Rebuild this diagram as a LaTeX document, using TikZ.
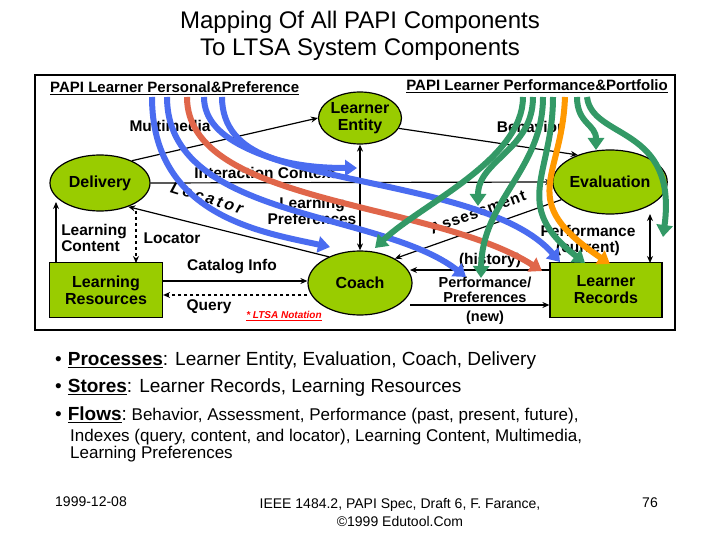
\documentclass[tikz,border=0pt]{standalone}
\usepackage{fontspec}
\setmainfont{Liberation Sans}
\usetikzlibrary{arrows.meta,shapes.geometric}
\definecolor{lg}{HTML}{99CC00}
\definecolor{bl}{HTML}{4A6CF0}
\definecolor{rd}{HTML}{E0664A}
\definecolor{gr}{HTML}{339966}
\definecolor{og}{HTML}{FF9900}
\begin{document}
\begin{tikzpicture}[x=1pt,y=-1pt,
  proc/.style={ellipse,draw,line width=1.2pt,fill=lg,font=\bfseries\fontsize{16}{17}\selectfont,align=center,inner sep=0pt},
  store/.style={rectangle,draw,line width=1.2pt,fill=lg,font=\bfseries\fontsize{16}{17}\selectfont,align=center},
  flow/.style={-{Stealth[length=7pt,width=6pt]},line width=1.2pt},
  lab/.style={font=\bfseries\fontsize{15.5}{16}\selectfont,align=center,inner sep=1pt},
  fat/.style={line width=6pt,-{Triangle[length=12pt,width=16pt]}},
  bul/.style={anchor=west,font=\fontsize{19}{22}\selectfont,inner sep=0pt}]
\useasboundingbox (0,0) rectangle (720,540);
\fill[white] (0,0) rectangle (720,540);
\node (t1) at (360,22) {\fontsize{24}{26}\selectfont Mapping Of All PAPI Components};
\node (t2) at (360,50) {\fontsize{24}{26}\selectfont To LTSA System Components};
\draw[line width=2pt] (35,75) rectangle (675,330);
\node[lab,anchor=west,font=\bfseries\fontsize{15}{16}\selectfont] (h1) at (49,88) {\underline{PAPI Learner Personal\&Preference}};
\node[lab,anchor=east,font=\bfseries\fontsize{15}{16}\selectfont] (h2) at (669,86) {\underline{PAPI Learner Performance\&Portfolio}};
\node[proc,minimum width=80pt,minimum height=52pt] (le) at (360,118) {Learner\\Entity};
\node[proc,minimum width=100pt,minimum height=56pt] (dl) at (100,183) {Delivery};
\node[proc,minimum width=110pt,minimum height=64pt] (ev) at (610,182) {Evaluation};
\node[proc,minimum width=104pt,minimum height=64pt] (co) at (360,283) {Coach};
\node[store,minimum width=113pt,minimum height=55pt] (lr) at (106,290) {Learning\\Resources};
\node[store,minimum width=112pt,minimum height=55pt] (rec) at (606,290) {Learner\\Records};
% black flows
\draw[flow] (dl.35) -- (le.west);
\draw[flow] (le.-15) -- (ev.140);
\draw[flow] (dl.east) -- (ev.west);
\draw[flow,{Stealth[length=7pt,width=6pt]}-{Stealth[length=7pt,width=6pt]}] (le.south) -- (co.north);
\draw[flow] (co.140) -- (dl.-40);
\draw[flow,dashed] (136,211) -- (136,263);
\draw[flow] (56,263) -- (56,202);
\draw[flow] (lr.east|-0,281) -- (co.west|-0,281);
\draw[flow,dashed] (co.west|-0,295) -- (lr.east|-0,295);
\draw[flow] (ev.200) -- (co.35);
\draw[flow] (rec.west|-0,270) -- (410,270);
\draw[flow] (410,305) -- (rec.west|-0,305);
\draw[flow,{Stealth[length=7pt,width=6pt]}-{Stealth[length=7pt,width=6pt]}] (650,214) -- (650,263);
% labels
\node[lab] (l1) at (170,126) {Multimedia};
\node[lab] (l2) at (530,127) {Behavior};
\node[lab] (l3) at (265,173) {Interaction Context};
\node[lab] (l4) at (312,211) {Learning\\Preferences};
\node[lab,rotate=-17,font=\bfseries\itshape\fontsize{16}{17}\selectfont] (l5) at (207,198) {L\,o\,c\,a\,t\,o\,r};
\node[lab,align=left] (l6) at (94,238) {Learning\\Content};
\node[lab] (l7) at (172,238) {Locator};
\node[lab] (l8) at (232,267) {Catalog Info};
\node[lab] (l9) at (209,307) {Query};
\node[font=\bfseries\itshape\fontsize{10}{11}\selectfont,text=red] (l10) at (284,316) {\underline{* LTSA Notation}};
\node[lab,rotate=20] (l11) at (478,212) {A\hspace{1pt}s\hspace{1pt}s\hspace{1pt}e\hspace{1pt}s\hspace{1pt}s\hspace{1pt}m\hspace{1pt}e\hspace{1pt}n\hspace{1pt}t};
\node[lab] (l12) at (588,240) {Performance\\(current)};
\node[lab] (l13) at (490,260) {(history)};
\node[lab,font=\bfseries\fontsize{14.5}{15}\selectfont] (l14) at (485,290) {Performance/\\Preferences};
\node[lab,font=\bfseries\fontsize{14.5}{15}\selectfont] (l15) at (485,318) {(new)};
% fat arrows
\draw[fat,bl] (152,97) .. controls (152,215) and (260,232) .. (330,247);
\draw[fat,bl] (167,97) .. controls (167,220) and (380,210) .. (466,277);
\draw[fat,rd] (187,97) .. controls (187,205) and (430,200) .. (542,271);
\draw[fat,bl] (204,97) .. controls (204,190) and (480,170) .. (560,262);
\draw[fat,bl] (222,97) .. controls (222,160) and (300,168) .. (357,168);
\draw[fat,gr] (523,97) .. controls (523,160) and (420,205) .. (375,248);
\draw[fat,gr] (533,97) .. controls (533,150) and (478,160) .. (478,206);
\draw[fat,gr] (543,97) .. controls (543,170) and (482,200) .. (481,278);
\draw[fat,gr] (553,97) .. controls (553,175) and (510,205) .. (585,263);
\draw[fat,og] (565,97) .. controls (562,180) and (515,200) .. (610,264);
\draw[fat,gr] (577,97) .. controls (577,124) and (596,124) .. (596,150);
\draw[fat,gr] (587,97) .. controls (592,140) and (678,125) .. (663,237);
% bullets
\node[bul] (b1) at (55,361) {•\hspace{6pt}\textbf{\underline{Processes}}: Learner Entity,  Evaluation,  Coach,  Delivery};
\node[bul] (b2) at (55,388) {•\hspace{6pt}\textbf{\underline{Stores}}: Learner Records,  Learning Resources};
\node[bul,font=\fontsize{17}{20}\selectfont] (b3) at (55,415) {\fontsize{19}{22}\selectfont•\hspace{6pt}\textbf{\underline{Flows}}:\fontsize{17}{20}\selectfont\ Behavior,  Assessment,  Performance (past, present, future),};
\node[bul,font=\fontsize{17}{20}\selectfont] (b4) at (70,437) {Indexes (query, content, and locator),  Learning Content, Multimedia,};
\node[bul,font=\fontsize{17}{20}\selectfont] (b5) at (70,454) {Learning Preferences};
\node[font=\fontsize{14}{16}\selectfont] (f1) at (91,502) {1999-12-08};
\node[font=\fontsize{14}{18}\selectfont,align=center] (f2) at (400,512) {IEEE 1484.2, PAPI Spec, Draft 6, F. Farance,\\©1999 Edutool.Com};
\node[font=\fontsize{14}{16}\selectfont] (f3) at (650,503) {76};
\end{tikzpicture}
\end{document}
